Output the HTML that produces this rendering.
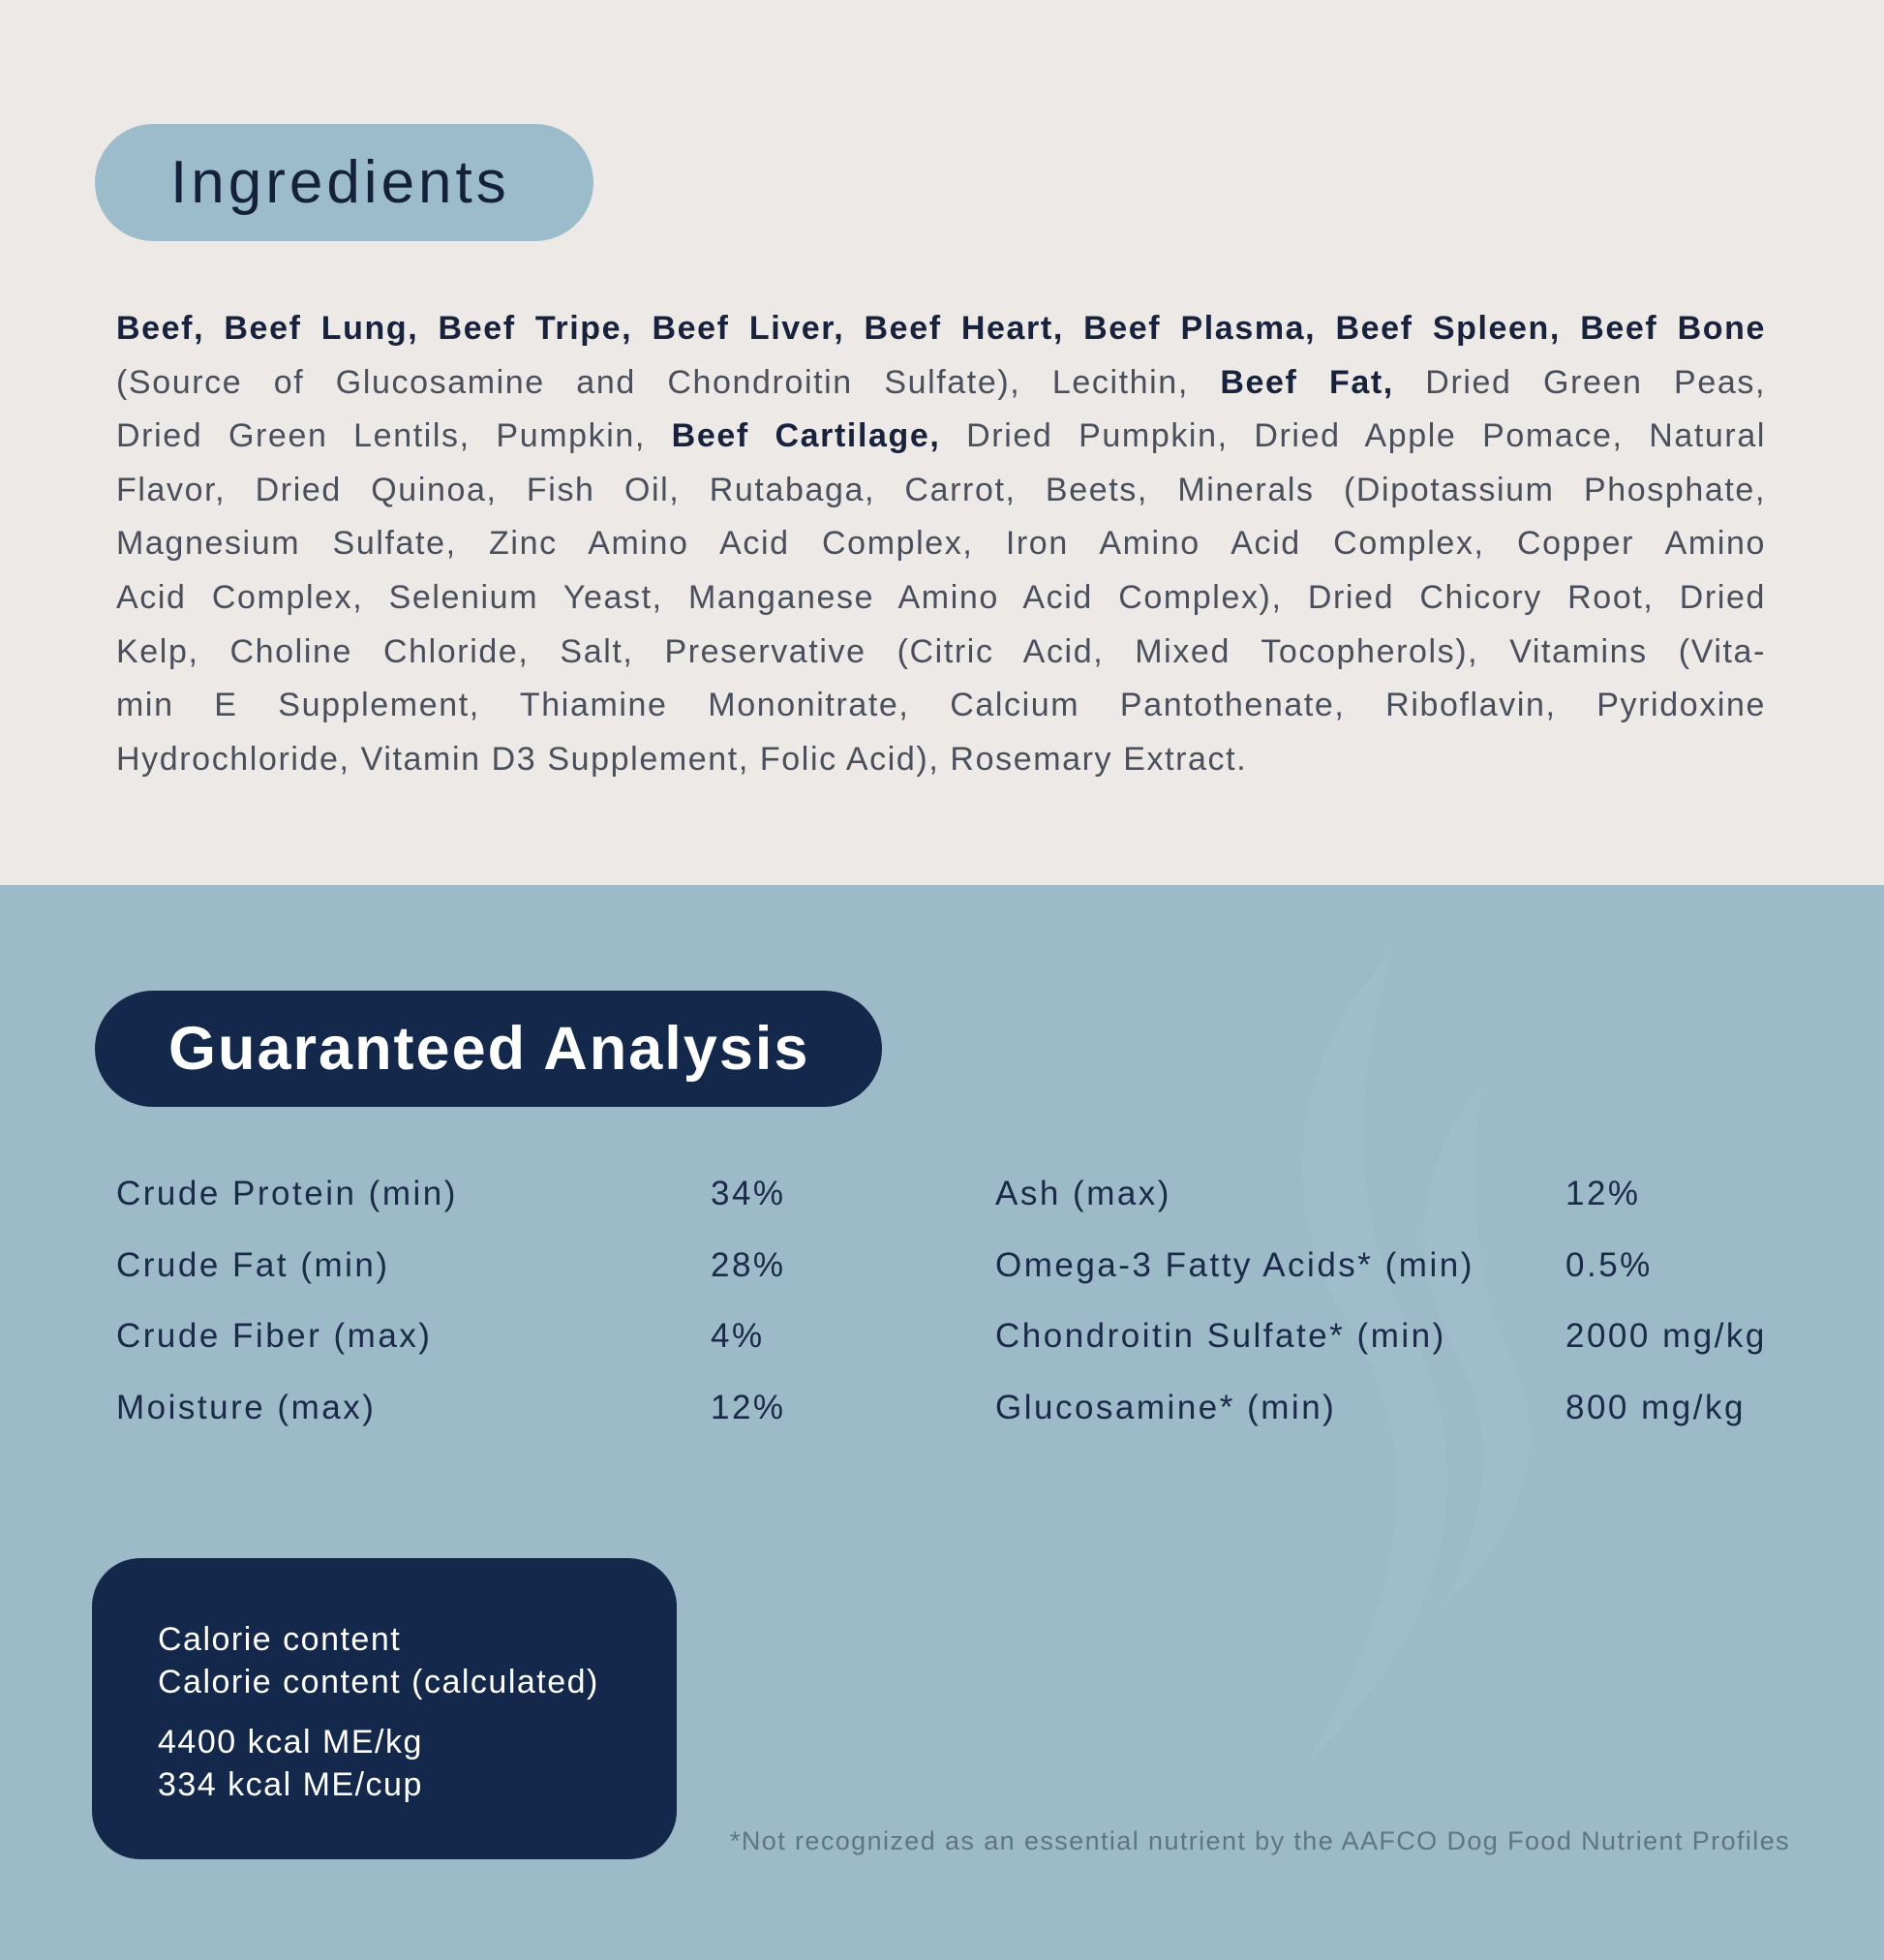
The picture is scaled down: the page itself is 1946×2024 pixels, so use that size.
<!DOCTYPE html>
<html><head><meta charset="utf-8"><style>
*{margin:0;padding:0;box-sizing:border-box}
body{width:1946px;height:2024px;position:relative;overflow:hidden;font-family:"Liberation Sans",sans-serif;background:#9cbac8}
.top{position:absolute;left:0;top:0;width:1946px;height:914px;background:#ece9e6}
.pill1{position:absolute;left:98px;top:128px;width:515px;height:121px;border-radius:61px;background:#9dbccb;color:#15213a;font-size:62px;letter-spacing:4px;line-height:121px;padding-left:78px}
.para{position:absolute;left:120px;top:312px;width:1704px;font-size:34px;letter-spacing:1.6px;line-height:55.6px;color:#4a4f5c}
.para div{text-align:justify;text-align-last:justify;white-space:normal}
.para b{color:#18223c}
.pill2{position:absolute;left:98px;top:1023px;width:813px;height:120px;border-radius:60px;background:#13284a;color:#fff;font-weight:bold;font-size:63px;letter-spacing:2px;line-height:120px;padding-left:76px}
.row{position:absolute;font-size:35px;letter-spacing:2.5px;color:#1b2a48;line-height:40px}
.cal{position:absolute;left:95px;top:1609px;width:604px;height:311px;border-radius:50px;background:#13284a;color:#fff;font-size:34px;letter-spacing:1.5px;line-height:44px;padding:62px 0 0 68px}
.foot{position:absolute;left:754px;top:1886px;font-size:27px;letter-spacing:1.4px;color:#5f7585}
.swirl{position:absolute;left:1200px;top:960px}
</style></head><body>
<div class="top"></div>
<div class="pill1">Ingredients</div>
<div class="para">
<div><b>Beef, Beef Lung, Beef Tripe, Beef Liver, Beef Heart, Beef Plasma, Beef Spleen, Beef Bone</b></div>
<div>(Source of Glucosamine and Chondroitin Sulfate), Lecithin, <b>Beef Fat,</b> Dried Green Peas,</div>
<div>Dried Green Lentils, Pumpkin, <b>Beef Cartilage,</b> Dried Pumpkin, Dried Apple Pomace, Natural</div>
<div>Flavor, Dried Quinoa, Fish Oil, Rutabaga, Carrot, Beets, Minerals (Dipotassium Phosphate,</div>
<div>Magnesium Sulfate, Zinc Amino Acid Complex, Iron Amino Acid Complex, Copper Amino</div>
<div>Acid Complex, Selenium Yeast, Manganese Amino Acid Complex), Dried Chicory Root, Dried</div>
<div>Kelp, Choline Chloride, Salt, Preservative (Citric Acid, Mixed Tocopherols), Vitamins (Vita-</div>
<div>min E Supplement, Thiamine Mononitrate, Calcium Pantothenate, Riboflavin, Pyridoxine</div>
<div style="text-align-last:left">Hydrochloride, Vitamin D3 Supplement, Folic Acid), Rosemary Extract.</div>
</div>
<svg class="swirl" width="420" height="900" viewBox="0 0 420 900"><path d="M240 20 C120 150 120 300 200 420 C280 560 240 700 150 860 C300 720 330 560 260 420 C190 290 200 150 240 20Z" fill="#a4c0cd" opacity=".6"/><path d="M330 160 C250 260 260 360 310 450 C350 530 330 620 290 700 C380 620 400 520 360 440 C320 360 320 260 330 160Z" fill="#a4c0cd" opacity=".6"/></svg>
<div class="pill2">Guaranteed Analysis</div>
<div class="row" style="left:120px;top:1213px">Crude Protein (min)</div><div class="row" style="left:734px;top:1213px">34%</div>
<div class="row" style="left:120px;top:1287px">Crude Fat (min)</div><div class="row" style="left:734px;top:1287px">28%</div>
<div class="row" style="left:120px;top:1360px">Crude Fiber (max)</div><div class="row" style="left:734px;top:1360px">4%</div>
<div class="row" style="left:120px;top:1434px">Moisture (max)</div><div class="row" style="left:734px;top:1434px">12%</div>
<div class="row" style="left:1028px;top:1213px">Ash (max)</div><div class="row" style="left:1617px;top:1213px">12%</div>
<div class="row" style="left:1028px;top:1287px">Omega-3 Fatty Acids* (min)</div><div class="row" style="left:1617px;top:1287px">0.5%</div>
<div class="row" style="left:1028px;top:1360px">Chondroitin Sulfate* (min)</div><div class="row" style="left:1617px;top:1360px">2000 mg/kg</div>
<div class="row" style="left:1028px;top:1434px">Glucosamine* (min)</div><div class="row" style="left:1617px;top:1434px">800 mg/kg</div>
<div class="cal">Calorie content<br>Calorie content (calculated)<div style="height:18px"></div>4400 kcal ME/kg<br>334 kcal ME/cup</div>
<div class="foot">*Not recognized as an essential nutrient by the AAFCO Dog Food Nutrient Profiles</div>
</body></html>
